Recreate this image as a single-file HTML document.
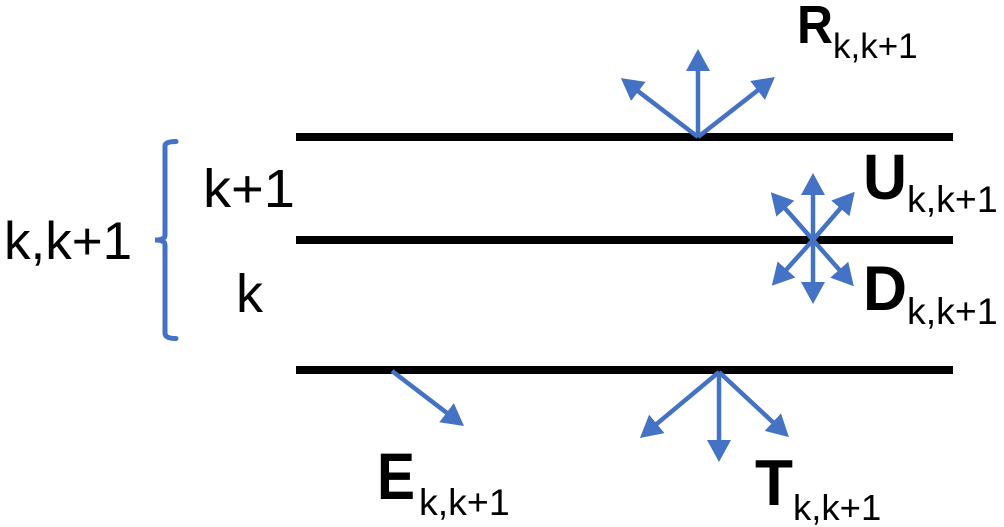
<!DOCTYPE html>
<html>
<head>
<meta charset="utf-8">
<style>
html,body{margin:0;padding:0;background:#fff;width:1004px;height:527px;overflow:hidden}
svg{display:block}
text{font-family:"Liberation Sans",sans-serif;fill:#000}
.b{font-weight:bold}
.s{font-size:37.500px}
.m{font-size:54px}
</style>
</head>
<body>
<svg width="1004" height="527" viewBox="0 0 1004 527" xmlns="http://www.w3.org/2000/svg">
<defs>
<marker id="a" markerUnits="userSpaceOnUse" markerWidth="26" markerHeight="26" refX="6" refY="12" orient="auto">
<path d="M0 0L22 12L0 24Z" fill="#4472C4"/>
</marker>
</defs>
<g stroke="#000" stroke-width="8">
<line x1="296" y1="137" x2="953" y2="137"/>
<line x1="296" y1="240" x2="953" y2="240"/>
<line x1="296" y1="370" x2="953" y2="370"/>
</g>
<g stroke="#4472C4" stroke-width="4.5" fill="none">
<line x1="698" y1="137" x2="698" y2="65" marker-end="url(#a)"/>
<line x1="698" y1="137" x2="633.6" y2="87.8" marker-end="url(#a)"/>
<line x1="698" y1="137" x2="762.3" y2="86.8" marker-end="url(#a)"/>
<line x1="813" y1="240" x2="813" y2="189" marker-end="url(#a)"/>
<line x1="813" y1="240" x2="781.4" y2="204.2" marker-end="url(#a)"/>
<line x1="813" y1="240" x2="844.3" y2="203.9" marker-end="url(#a)"/>
<line x1="813" y1="240" x2="782.5" y2="273.9" marker-end="url(#a)"/>
<line x1="813" y1="240" x2="843.2" y2="274.2" marker-end="url(#a)"/>
<line x1="813" y1="240" x2="813" y2="288" marker-end="url(#a)"/>
<line x1="719" y1="372" x2="652.2" y2="427.7" marker-end="url(#a)"/>
<line x1="719" y1="372" x2="777.2" y2="426.2" marker-end="url(#a)"/>
<line x1="719" y1="372" x2="719" y2="446" marker-end="url(#a)"/>
<line x1="392" y1="371" x2="451.3" y2="416.3" marker-end="url(#a)"/>
</g>
<path d="M176 141.500Q165 141.500 165 146V235Q165 240 155 240Q165 240 165 245V333Q165 338.500 176 338.500" fill="none" stroke="#4472C4" stroke-width="5" stroke-linecap="round"/>
<text x="4" y="259" font-size="53">k,k+1</text>
<text class="m" x="203" y="207" textLength="92" lengthAdjust="spacingAndGlyphs">k+1</text>
<text class="m" x="236" y="312">k</text>
<text class="b" font-size="54" x="797" y="43" textLength="36" lengthAdjust="spacingAndGlyphs">R</text>
<text font-size="35" x="833" y="58">k,k+1</text>
<text class="b" font-size="64" x="863" y="199" textLength="44" lengthAdjust="spacingAndGlyphs">U</text>
<text class="s" x="907" y="212">k,k+1</text>
<text class="b" font-size="63" x="863" y="310" textLength="44" lengthAdjust="spacingAndGlyphs">D</text>
<text class="s" x="907" y="324">k,k+1</text>
<text class="b" font-size="66" x="377" y="499" textLength="38" lengthAdjust="spacingAndGlyphs">E</text>
<text class="s" x="419" y="515">k,k+1</text>
<text class="b" font-size="65" x="755" y="505" textLength="38" lengthAdjust="spacingAndGlyphs">T</text>
<text font-size="36.500" x="793" y="520">k,k+1</text>
</svg>
</body>
</html>
